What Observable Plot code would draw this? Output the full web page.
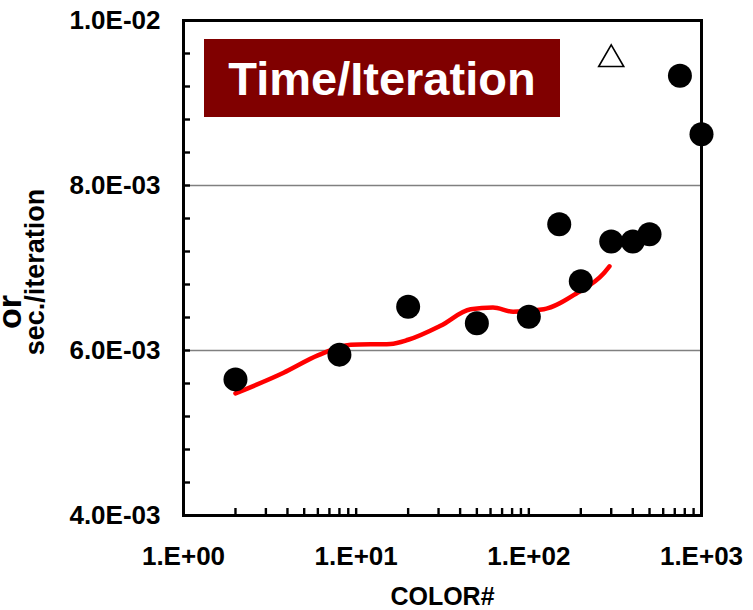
<!DOCTYPE html>
<html>
<head>
<meta charset="utf-8">
<script src="https://cdn.jsdelivr.net/npm/d3@7"></script>
<script src="https://cdn.jsdelivr.net/npm/@observablehq/plot@0.6"></script>
<style>
  body { margin: 0; background: #fff; }
  #wrap { position: relative; width: 753px; height: 610px; overflow: hidden; font-family: "Liberation Sans", Arial, sans-serif; }
  #title { position: absolute; left: 204px; top: 39px; width: 356px; height: 78px; background: #800000; color: #fff;
           font-weight: bold; font-size: 47px; display: flex; align-items: center; justify-content: center; }
</style>
</head>
<body>
<div id="wrap"><div id="chart"></div><div id="title">Time/Iteration</div></div>
<script>
// Measured points (black dots)
const pointColors = [2, 8, 20, 50, 100, 150, 200, 300, 400, 500, 750, 1000];
const pointTimes  = [5.65e-3, 5.95e-3, 6.53e-3, 6.33e-3, 6.41e-3, 7.53e-3, 6.84e-3, 7.32e-3, 7.32e-3, 7.41e-3, 9.33e-3, 8.62e-3];

// Red fitted curve
const lineColors = [2, 3.8, 6, 9.3, 15.8, 20, 30.8, 46, 62, 81, 122, 191, 270, 293];
const lineTimes  = [5.48e-3, 5.73e-3, 5.94e-3, 6.07e-3, 6.08e-3, 6.13e-3, 6.30e-3, 6.50e-3, 6.52e-3, 6.47e-3, 6.50e-3, 6.70e-3, 6.93e-3, 7.02e-3];

// Open triangle
const triColors = [300];
const triTimes  = [9.53e-3];

// Axis ticks and labels
const xTicks = [1, 10, 100, 1000];
const xTickLabels = ["1.E+00", "1.E+01", "1.E+02", "1.E+03"];
const yTicks = [0.004, 0.006, 0.008, 0.010];
const yTickLabels = ["4.0E-03", "6.0E-03", "8.0E-03", "1.0E-02"];
const yGrid = [0.006, 0.008];

const xMinor = [];
for (const dec of [1, 10, 100]) for (let k = 1; k < 10; k++) xMinor.push(k * dec);
xMinor.push(1000);
const yMinor = d3.range(0, 16).map(i => 0.004 + i * 0.0004);

const xLabelMap = new Map(xTicks.map((v, i) => [v, xTickLabels[i]]));
const yLabelMap = new Map(yTicks.map((v, i) => [v, yTickLabels[i]]));

const points = pointColors.map((c, i) => ({c, t: pointTimes[i]}));
const line = lineColors.map((c, i) => ({c, t: lineTimes[i]}));
const tri = triColors.map((c, i) => ({c, t: triTimes[i]}));

const chart = Plot.plot({
  width: 753,
  height: 610,
  marginLeft: 183,
  marginRight: 52,
  marginTop: 20,
  marginBottom: 95,
  style: { fontFamily: '"Liberation Sans", Arial, sans-serif', fontWeight: "bold", color: "black", background: "white" },
  x: { type: "log", domain: [1, 1000] },
  y: { domain: [0.004, 0.01] },
  marks: [
    Plot.ruleY(yGrid, { stroke: "#808080", strokeWidth: 1.5 }),
    Plot.line(line, { x: "c", y: "t", stroke: "#ff0000", strokeWidth: 4.5, curve: "monotone-x" }),
    Plot.dot(points, { x: "c", y: "t", r: 12, fill: "black", stroke: "none" }),
    Plot.dot(tri, { x: "c", y: "t", r: 9.3, symbol: "triangle", fill: "none", stroke: "black", strokeWidth: 1.6 }),
    Plot.frame({ stroke: "black", strokeWidth: 3 }),
    Plot.axisY({ ticks: yMinor, tickSize: 7, dx: 7, fill: "none", stroke: "black", strokeWidth: 2.4, label: null }),
    Plot.axisX({ ticks: xMinor, tickSize: 7, dy: -7, fill: "none", stroke: "black", strokeWidth: 2.4, label: null }),
    Plot.axisY({ ticks: yTicks, tickSize: 0, tickPadding: 23, tickFormat: d => yLabelMap.get(d), fontSize: 26, label: null }),
    Plot.axisX({ ticks: xTicks, tickSize: 0, tickPadding: 31, tickFormat: d => xLabelMap.get(d), fontSize: 26, label: null }),
    Plot.text(["COLOR#"], { text: d => d, frameAnchor: "bottom", textAnchor: "middle", lineAnchor: "middle", dy: 81, fontSize: 25, fontWeight: "bold" }),
    Plot.text(["sec./iteration"], { text: d => d, frameAnchor: "left", textAnchor: "middle", lineAnchor: "middle", rotate: -90, dx: -148, dy: 4, fontSize: 27, fontWeight: "bold" }),
    Plot.text(["or"], { text: d => d, frameAnchor: "left", textAnchor: "middle", lineAnchor: "middle", rotate: -90, dx: -173, dy: 44, fontSize: 34, fontWeight: "bold" })
  ]
});
document.getElementById("chart").appendChild(chart);
</script>
</body>
</html>
